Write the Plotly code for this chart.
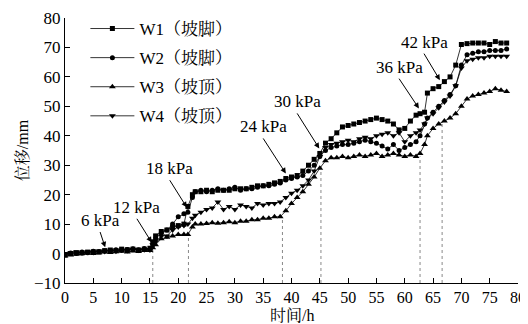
import plotly.graph_objects as go

# ---------------- data ----------------
t = [0,1,2,3,4,5,6,7,8,9,10,11,12,13,14,15,15.5,16,17,18,19,20,21,21.7,22.5,
     23,24,25,26,27,28,29,30,31,32,33,34,35,36,37,38,39,40,41,42,43,44,45,46,47,48,49,50,51,52,
     53,54,55,56,57,58,59,60,61,62,62.7,63.5,64,65,66,67,68,69,70,71,72,73,74,75,76,77,78]

w1 = [-0.5,0,0.3,0.2,0.5,0.6,0.5,1.0,1.2,1.0,1.5,1.3,1.5,1.2,1.5,1.8,
      4,
      6,7.5,8,9,9.5,10,
      16,20,
      21,21,21.5,21,21.5,21.5,21.5,22,22,22,
      22.5,23,23,23.5,24,24.5,25.5,26,26.5,28,
      30,32,34,37.5,39,41,43,43.5,44,44.5,
      45,45.5,46,45.5,45,44,42,42.5,45,47,
      47.5,48,
      54.5,56,56.7,58.4,60,64,71,71.3,71.5,71.5,71.5,71,72,71.5,71.5]

w2 = [-0.3,0.2,0,0.5,0.3,0.8,0.7,0.9,0.8,1.3,1.1,1.4,1.6,1.3,1.7,1.5,
      3,
      5,7,8,10,12.5,13.5,
      14,19,
      21,21.5,21,21.5,22,21.5,22,22.5,21.5,22,
      22,22.5,23,23,23.5,24,25,25.5,26,26.5,
      28,30,33,35,36,36.5,37,37,37.5,38,
      38.5,38,37.5,36.5,35.5,37,35,36,37,38,
      40,44,
      46,48,50,52,54,57,64,67.5,68,68.5,68.5,69,69,69,69.5]

w3 = [-0.8,-0.5,-0.2,0,0.2,0,0.3,0.5,0.4,0.6,0.8,0.5,0.9,0.7,1.0,1.0,
      2,
      3,5,5.5,6,6.5,6.5,
      6.5,9,
      10,10,10.2,10.5,10.3,10.5,10.8,10.5,11,11,
      11.5,11.5,12,12,12.5,12.5,14.5,17,19,21,
      23.5,26,29,31.5,32.5,32.5,33,32.5,33,33.5,
      33,33.5,34,33,33.5,34,33.5,33,33.5,33,
      34,37,
      40,42.5,44,45,46,47.5,50,52.5,53.5,54,54.5,55,56,55.5,55]

w4 = [0,0.3,0.5,0.2,0.6,0.4,0.9,0.7,1.1,0.8,1.2,1.0,1.4,1.1,1.3,1.2,
      3,
      4,6,6,8,9,9.5,
      10,12,
      13,14,15,15.5,17.5,15,16,15,16.5,16,
      15.5,17,16.5,17,17,17.5,19,20.5,21.5,23,
      25,28,33,36,37,37.5,38,38.5,38,39,
      39.5,39,40,40.5,41,40,41,38,40,41,
      42,44,
      46,47.5,49.5,51.5,53.5,57,63,65.5,66,66.5,66.5,67,67,67,67]

series_names = ["W1（坡脚）", "W2（坡脚）", "W3（坡顶）", "W4（坡顶）"]
series_values = [w1, w2, w3, w4]
series_symbols = ["square", "circle", "triangle-up", "triangle-down"]
series_sizes = [5, 5, 6, 6]

# load steps: guide lines and arrow labels
step_t = [15.5, 21.8, 38.4, 45.2, 62.7, 66.6]
step_top = [1.5, 7, 12.5, 30, 33, 44]

load_labels = ["6 kPa", "12 kPa", "18 kPa", "24 kPa", "30 kPa", "36 kPa", "42 kPa"]
tip_t = [7.1, 15.3, 21.5, 39.0, 44.9, 62.5, 66.2]
tip_v = [2.1, 3.8, 15.7, 27.2, 35.7, 49.3, 58.9]
tail_t = [6.2, 12.7, 18.5, 35.0, 41.0, 59.0, 63.4]
tail_v = [7.3, 11.8, 24.9, 39.1, 47.6, 59.4, 67.9]

x_ticks = list(range(0, 81, 5))
y_ticks = list(range(-10, 81, 10))

FONT = "Liberation Serif, 'Noto Serif CJK SC', 'Noto Sans CJK SC', serif"

# ---------------- figure ----------------
fig = go.Figure()

gx, gy = [], []
for xv, top in zip(step_t, step_top):
    gx += [xv, xv, None]
    gy += [-10, top, None]
fig.add_trace(go.Scatter(x=gx, y=gy, mode="lines",
                         line=dict(color="#888888", width=1, dash="dot"),
                         showlegend=False, hoverinfo="skip"))

for i, (name, vals, sym, sz) in enumerate(zip(series_names, series_values, series_symbols, series_sizes)):
    fig.add_trace(go.Scatter(
        x=t, y=vals, mode="lines+markers", name=name,
        legendgroup=f"g{i}",
        line=dict(color="black", width=0.8),
        marker=dict(symbol=sym, size=sz, color="black", line=dict(width=0)),
    ))

for lab, xt, yt, xa, ya in zip(load_labels, tip_t, tip_v, tail_t, tail_v):
    fig.add_annotation(x=xt, y=yt, ax=xa, ay=ya, xref="x", yref="y",
                       axref="x", ayref="y", text=lab, showarrow=True,
                       arrowhead=2, arrowsize=1.1, arrowwidth=1, arrowcolor="black",
                       yanchor="bottom", xanchor="center",
                       font=dict(family=FONT, size=17, color="black"))

# x-axis title as paper annotation (precise placement)
fig.add_annotation(x=0.5, y=-0.122, xref="paper", yref="paper", text="时间/h",
                   showarrow=False, xanchor="center", yanchor="middle",
                   font=dict(family=FONT, size=16, color="black"))

fig.update_layout(
    width=520, height=316,
    margin=dict(l=57, r=10, t=10, b=41, autoexpand=False),
    paper_bgcolor="white", plot_bgcolor="white",
    font=dict(family=FONT, size=17, color="black"),
    showlegend=True,
    legend=dict(x=0.045, y=1.0265, xanchor="left", yanchor="top",
                bgcolor="rgba(0,0,0,0)", font=dict(family=FONT, size=17),
                tracegroupgap=4, itemwidth=44),
)
fig.update_xaxes(range=[0, 80], tickvals=x_ticks, ticks="inside", ticklen=5,
                 tickcolor="black", showline=True, linecolor="black", linewidth=1.2,
                 showgrid=False, zeroline=False, automargin=False,
                 tickfont=dict(family=FONT, size=16))
fig.update_yaxes(range=[-10, 80], tickvals=y_ticks, ticks="inside", ticklen=5,
                 tickcolor="black", showline=True, linecolor="black", linewidth=1.2,
                 showgrid=False, zeroline=False, automargin=False,
                 tickfont=dict(family=FONT, size=17),
                 title=dict(text="位移/mm", font=dict(family=FONT, size=16), standoff=1))

fig.write_html("out.html")
